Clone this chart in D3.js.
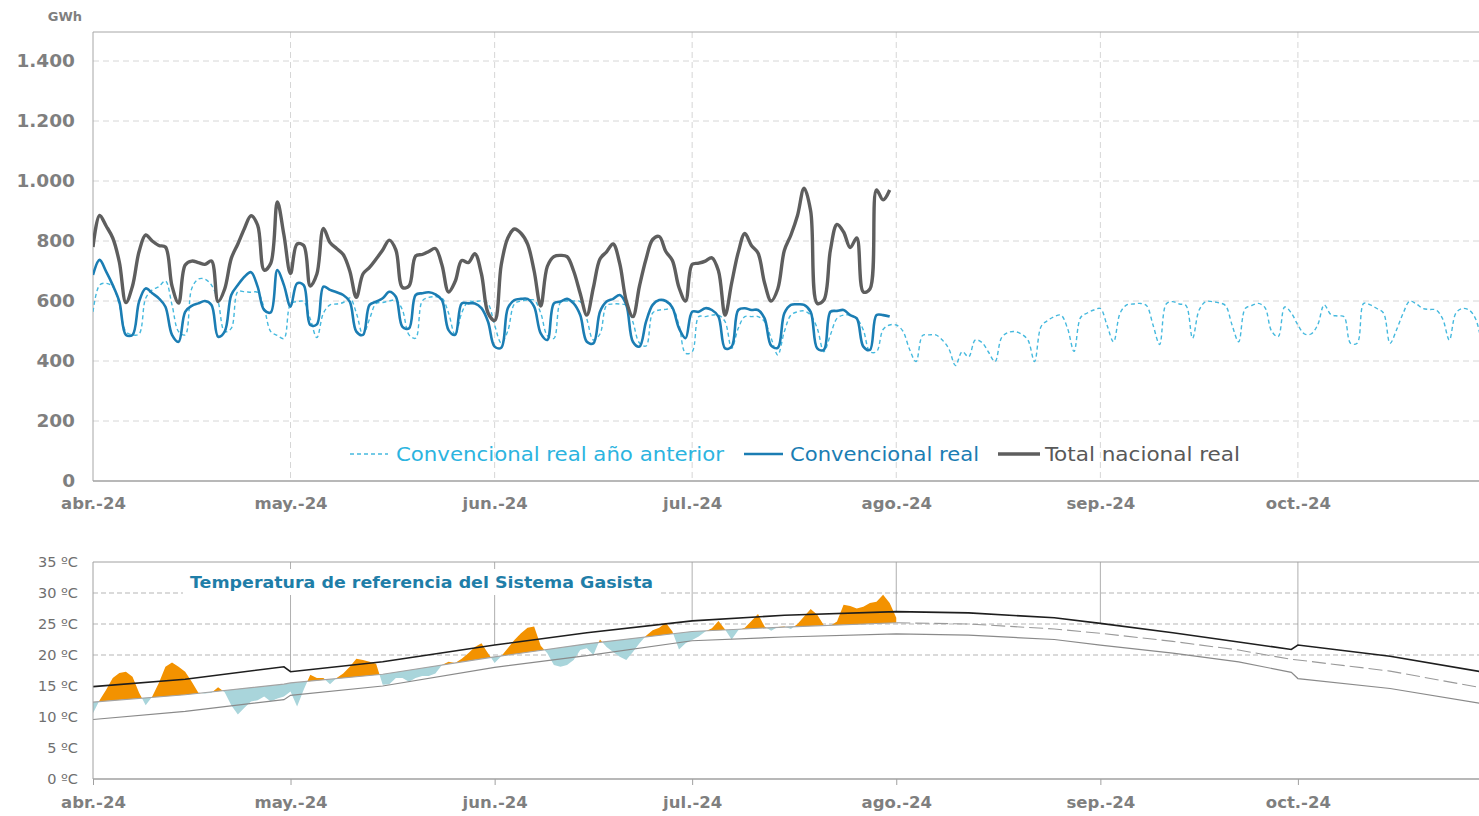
<!DOCTYPE html>
<html><head><meta charset="utf-8">
<script src="https://cdn.jsdelivr.net/npm/d3@7"></script>
<style>body{margin:0;background:#fff}svg{display:block}</style>
</head><body><svg id="c" width="1479" height="816"></svg>
<script>
// ---------- DATA ----------
const monthLabels = ["abr.-24","may.-24","jun.-24","jul.-24","ago.-24","sep.-24","oct.-24"];
const monthStarts = ["2024-04-01","2024-05-01","2024-06-01","2024-07-01","2024-08-01","2024-09-01","2024-10-01"];
const gwhTicks = [0,200,400,600,800,1000,1200,1400];
const tempTicks = [0,5,10,15,20,25,30,35];
const seriesStart = "2024-04-01"; // daily series, one value per day

const totalNacionalReal = [780,885,850,810,730,595,650,765,820,800,785,780,650,593,720,733,728,722,733,598,
640,742,790,842,884,853,703,726,930,820,692,790,785,650,690,842,795,775,755,700,
612,690,712,740,770,803,770,645,650,750,755,765,775,720,630,665,735,728,758,690,
560,535,720,810,840,826,790,700,583,715,748,752,748,700,625,553,645,740,764,790,
725,600,548,650,740,805,815,765,735,645,600,722,726,733,744,700,553,660,762,825,
785,760,660,600,640,768,820,885,976,900,592,603,770,855,830,778,810,630,640,970,937,970];

const convencionalReal = [687,737,698,653,598,487,487,598,642,626,609,581,487,464,564,584,592,600,587,481,
498,620,653,681,696,648,570,562,703,653,581,659,653,520,522,648,637,629,620,598,
498,487,587,598,609,631,614,514,509,620,626,629,622,603,503,487,592,592,592,576,
531,448,444,576,603,607,607,581,492,470,592,598,607,592,553,464,459,564,598,607,
620,587,464,448,531,587,603,600,578,509,476,564,564,576,570,548,442,448,570,576,
570,570,542,451,444,559,587,589,587,564,442,437,564,567,570,553,542,448,437,553,553,548];

const convencionalAnterior = [564,653,659,648,587,498,487,490,609,637,
648,667,587,498,487,642,673,673,653,598,
498,509,631,631,629,629,576,498,485,475,
590,598,598,540,478,560,587,590,595,610,
560,487,540,592,595,600,603,570,487,476,
600,612,614,610,560,487,560,598,598,600,
590,520,460,500,590,600,603,603,560,485,
475,595,600,600,598,540,470,490,585,590,
590,585,530,460,450,560,570,572,575,520,
426,431,548,548,553,553,531,442,509,548,
548,548,531,476,420,498,553,564,567,553,
509,431,487,542,553,553,542,503,431,431,
505,520,520,500,440,398,485,487,487,470,
440,385,431,414,470,462,430,398,478,495,
498,490,470,398,515,535,548,553,510,432,
545,560,570,575,520,464,560,587,590,592,
585,520,455,590,598,590,585,476,570,598,
598,594,585,520,464,575,585,592,578,500,
481,580,560,520,490,490,520,587,555,550,
548,459,459,592,587,575,560,459,505,560,
600,590,575,572,570,540,470,560,575,570,540,450];

const temperaturaReal = [10.6,12.7,14.4,16.3,17.1,17.3,16.5,13.9,11.9,13.3,
15.5,18.1,18.8,18.1,17.3,15.7,13.9,13.8,13.9,14.8,
14.0,11.9,10.4,11.5,12.5,12.7,13.3,12.5,13.0,13.3,
14.1,11.7,14.4,16.8,16.3,16.3,15.3,16.3,17.0,18.1,
19.4,19.2,18.9,18.6,15.2,15.3,16.3,16.3,15.7,16.3,
16.6,16.6,17.0,18.4,18.9,18.7,19.4,20.3,21.3,21.9,
20.3,18.7,19.8,21.1,22.4,23.5,24.4,24.6,21.5,20.3,
18.4,18.1,18.4,19.2,20.8,21.1,20.0,22.5,21.3,20.5,
19.7,19.2,20.5,21.9,23.1,24.0,24.4,25.2,23.8,20.9,
21.9,22.4,23.0,23.8,24.3,25.5,24.1,22.5,24.0,24.4,
25.5,26.6,24.6,23.9,24.5,24.6,24.2,25.0,26.2,27.4,
26.5,24.8,24.7,25.4,28.1,27.9,27.5,27.8,28.4,28.6,29.7,28.4,26.0];

const bandDates = ["2024-04-01","2024-04-15","2024-04-30","2024-05-01","2024-05-15","2024-06-01","2024-06-15",
  "2024-07-01","2024-07-15","2024-08-01","2024-08-12","2024-08-25","2024-09-01","2024-09-12","2024-09-22",
  "2024-09-30","2024-10-01","2024-10-15","2024-10-31"];
const bandUpper  = [14.9,16.1,18.1,17.3,18.9,21.6,23.6,25.5,26.4,27.0,26.8,26.0,25.1,23.6,22.1,20.9,21.6,19.8,16.9];
const bandMiddle = [12.4,13.6,15.3,15.5,16.9,19.7,21.8,23.8,24.5,25.2,25.0,24.2,23.5,22.2,20.8,19.3,19.2,17.4,14.3];
const bandLower  = [9.6,10.9,12.8,13.5,15.0,18.0,19.9,22.3,22.9,23.4,23.2,22.5,21.6,20.3,18.9,17.2,16.2,14.6,11.8];

const legendLabels = ["Convencional real año anterior","Convencional real","Total nacional real"];
const chartTitle = "Temperatura de referencia del Sistema Gasista";

// ---------- SETUP ----------
const parse = d3.timeParse("%Y-%m-%d");
const start = parse(seriesStart);
const dayAt = i => d3.timeDay.offset(start, i);
const months = monthStarts.map(parse);
const bDates = bandDates.map(parse);

const W = 1479, L = 93;
const x = d3.scaleTime().domain([parse("2024-04-01"), parse("2024-11-01")]).range([93, 1502]);
const yTop = d3.scaleLinear().domain([0, 1500]).range([481, 31]);
const yT = d3.scaleLinear().domain([0, 35]).range([779, 562]);
const loc = d3.formatLocale({decimal: ",", thousands: ".", grouping: [3], currency: ["", "€"]});
const fmt = loc.format(",d");

const svg = d3.select("#c");
const defs = svg.append("defs");
const FONT = "'DejaVu Sans', Verdana, sans-serif";
const GRAY = "#7f7f7f";

// ---------- TOP CHART ----------
const topG = svg.append("g");
topG.append("g").selectAll("line").data(gwhTicks.filter(v => v > 0)).join("line")
  .attr("x1", L).attr("x2", W).attr("y1", d => yTop(d)).attr("y2", d => yTop(d))
  .attr("stroke", "#d6d6d6").attr("stroke-dasharray", "6,4");
topG.append("g").selectAll("line").data(months.slice(1)).join("line")
  .attr("x1", d => x(d)).attr("x2", d => x(d)).attr("y1", 32).attr("y2", 481)
  .attr("stroke", "#d6d6d6").attr("stroke-dasharray", "6,4");
topG.append("line").attr("x1", L).attr("x2", W).attr("y1", 32).attr("y2", 32).attr("stroke", "#a6a6a6");

const yAxisTop = topG.append("g").attr("transform", `translate(${L},0)`)
  .call(d3.axisLeft(yTop).tickValues(gwhTicks).tickFormat(fmt).tickSize(0).tickPadding(18));
yAxisTop.select(".domain").attr("stroke", "#a6a6a6").attr("d", "M0,32V481");
yAxisTop.selectAll("text").attr("font-family", FONT).attr("font-size", 18.5).attr("font-weight", "bold").attr("fill", GRAY);

const xAxisTop = topG.append("g").attr("transform", "translate(0,481)")
  .call(d3.axisBottom(x).tickValues(months).tickFormat((d, i) => monthLabels[i]).tickSize(0).tickPadding(16));
xAxisTop.select(".domain").attr("stroke", "#a0a0a0").attr("stroke-width", 1.5).attr("d", `M${L},0H${W}`);
xAxisTop.selectAll("text").attr("font-family", FONT).attr("font-size", 16.5).attr("font-weight", "bold").attr("fill", GRAY);

topG.append("text").attr("x", 82).attr("y", 21).attr("text-anchor", "end")
  .attr("font-family", FONT).attr("font-size", 13).attr("font-weight", "bold").attr("fill", GRAY).text("GWh");

defs.append("clipPath").attr("id", "clipTop").append("rect").attr("x", L).attr("y", 32).attr("width", W - L).attr("height", 449);
const line = d3.line().x((d, i) => x(dayAt(i))).y(d => yTop(d)).curve(d3.curveCatmullRom.alpha(0.5));
const lines = topG.append("g").attr("clip-path", "url(#clipTop)");
lines.append("path").attr("d", line(convencionalAnterior)).attr("fill", "none")
  .attr("stroke", "#45b9de").attr("stroke-width", 1.4).attr("stroke-dasharray", "4,3");
lines.append("path").attr("d", line(convencionalReal)).attr("fill", "none")
  .attr("stroke", "#1b7db3").attr("stroke-width", 2.6).attr("stroke-linejoin", "round");
lines.append("path").attr("d", line(totalNacionalReal)).attr("fill", "none")
  .attr("stroke", "#5e5e5e").attr("stroke-width", 3.4).attr("stroke-linejoin", "round");

// legend
const leg = [
  {x0: 350, x1: 388, tx: 396, tw: 328, stroke: "#45b9de", sw: 1.4, dash: "4,3", tc: "#2cb4e0"},
  {x0: 744, x1: 783, tx: 790, tw: 189, stroke: "#1b7db3", sw: 2.6, dash: null, tc: "#1b7db3"},
  {x0: 998, x1: 1040, tx: 1045, tw: 195, stroke: "#5e5e5e", sw: 3.4, dash: null, tc: "#595959"}
];
const lg = topG.append("g");
leg.forEach((d, i) => {
  lg.append("line").attr("x1", d.x0).attr("x2", d.x1).attr("y1", 454).attr("y2", 454)
    .attr("stroke", d.stroke).attr("stroke-width", d.sw).attr("stroke-dasharray", d.dash);
  lg.append("text").attr("x", d.tx).attr("y", 461).attr("textLength", d.tw).attr("lengthAdjust", "spacingAndGlyphs")
    .attr("font-family", "'DejaVu Sans Condensed', 'DejaVu Sans', sans-serif").attr("font-size", 20)
    .attr("fill", d.tc).text(legendLabels[i]);
});

// ---------- BOTTOM CHART ----------
const bot = svg.append("g");
bot.append("g").selectAll("line").data([20, 25, 30]).join("line")
  .attr("x1", L).attr("x2", W).attr("y1", d => yT(d)).attr("y2", d => yT(d))
  .attr("stroke", "#b5b5b5").attr("stroke-dasharray", "5,3");

const upperAt = d3.scaleTime().domain(bDates).range(bandUpper);
bot.append("g").selectAll("line").data(months.slice(1)).join("line")
  .attr("x1", d => x(d)).attr("x2", d => x(d)).attr("y1", 562).attr("y2", d => yT(upperAt(d)))
  .attr("stroke", "#9a9a9a").attr("stroke-width", 0.8);

// clip regions above / below the reference (middle) line
const bx = (d, i) => x(bDates[i]);
defs.append("clipPath").attr("id", "above").append("path")
  .attr("d", d3.area().x(bx).y0((d) => yT(d)).y1(yT(35) - 5)(bandMiddle));
defs.append("clipPath").attr("id", "below").append("path")
  .attr("d", d3.area().x(bx).y0(yT(0)).y1(d => yT(d))(bandMiddle));

const tx = (d, i) => x(dayAt(i));
bot.append("path").attr("clip-path", "url(#above)")
  .attr("d", d3.area().x(tx).y0(yT(0)).y1(d => yT(d))(temperaturaReal)).attr("fill", "#f39200");
bot.append("path").attr("clip-path", "url(#below)")
  .attr("d", d3.area().x(tx).y0(yT(35)).y1(d => yT(d))(temperaturaReal)).attr("fill", "#a9d5db");

const bl = d3.line().x(bx).y(d => yT(d));
const cut = bandDates.indexOf("2024-08-01");
bot.append("path").attr("d", bl(bandLower)).attr("fill", "none").attr("stroke", "#8a8a8a").attr("stroke-width", 1.2);
bot.append("path").attr("d", d3.line().x((d, i) => x(bDates[i])).y(d => yT(d))(bandMiddle.slice(0, cut + 1)))
  .attr("fill", "none").attr("stroke", "#a3a3a3").attr("stroke-width", 1.1);
bot.append("path").attr("d", d3.line().x((d, i) => x(bDates[i + cut])).y(d => yT(d))(bandMiddle.slice(cut)))
  .attr("fill", "none").attr("stroke", "#9a9a9a").attr("stroke-width", 1.1).attr("stroke-dasharray", "14,5");
bot.append("path").attr("d", bl(bandUpper)).attr("fill", "none").attr("stroke", "#1e1e1e").attr("stroke-width", 1.6);

// frame + axes
bot.append("line").attr("x1", L).attr("x2", W).attr("y1", 562).attr("y2", 562).attr("stroke", "#a0a0a0");
const yAxisB = bot.append("g").attr("transform", `translate(${L},0)`)
  .call(d3.axisLeft(yT).tickValues(tempTicks).tickFormat(d => d + " ºC").tickSize(0).tickPadding(15));
yAxisB.select(".domain").attr("stroke", "#a0a0a0").attr("d", "M0,562V779");
yAxisB.selectAll("text").attr("font-family", FONT).attr("font-size", 14.5).attr("fill", "#6f6f6f");

const xAxisB = bot.append("g").attr("transform", "translate(0,779)")
  .call(d3.axisBottom(x).tickValues(months).tickFormat((d, i) => monthLabels[i]).tickSize(6).tickPadding(11));
xAxisB.select(".domain").attr("stroke", "#a0a0a0").attr("stroke-width", 1.5).attr("d", `M${L},0H${W}`);
xAxisB.selectAll("line").attr("stroke", "#a0a0a0");
xAxisB.selectAll("text").attr("font-family", FONT).attr("font-size", 16.5).attr("font-weight", "bold").attr("fill", GRAY);

// title
bot.append("rect").attr("x", 183).attr("y", 569).attr("width", 478).attr("height", 26).attr("fill", "#fff");
bot.append("text").attr("x", 190).attr("y", 588).attr("textLength", 463).attr("lengthAdjust", "spacingAndGlyphs")
  .attr("font-family", FONT).attr("font-size", 16.5).attr("font-weight", "bold").attr("fill", "#1f7ea8").text(chartTitle);
</script></body></html>
